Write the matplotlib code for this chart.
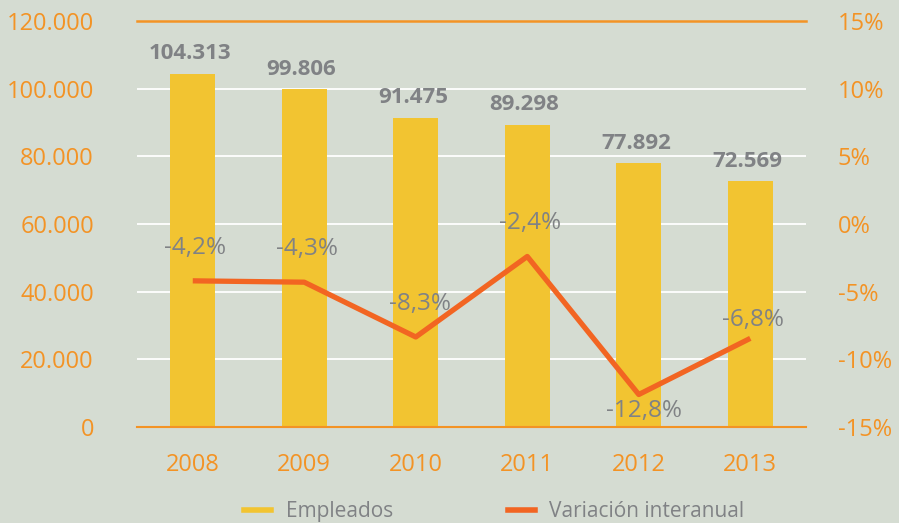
import matplotlib
matplotlib.use("Agg")
import matplotlib.pyplot as plt
from matplotlib.lines import Line2D

years = ["2008", "2009", "2010", "2011", "2012", "2013"]
empleados = [104313, 99806, 91475, 89298, 77892, 72569]
empleados_labels = ["104.313", "99.806", "91.475", "89.298", "77.892", "72.569"]
variacion = [-4.2, -4.3, -8.35, -2.4, -12.6, -8.45]
variacion_labels = ["-4,2%", "-4,3%", "-8,3%", "-2,4%", "-12,8%", "-6,8%"]
left_ticks = [0, 20000, 40000, 60000, 80000, 100000, 120000]
left_tick_labels = ["0", "20.000", "40.000", "60.000", "80.000", "100.000", "120.000"]
right_ticks = [-15, -10, -5, 0, 5, 10, 15]
right_tick_labels = ["-15%", "-10%", "-5%", "0%", "5%", "10%", "15%"]

BG = "#d5dcd2"
BAR = "#f2c431"
LINE = "#f26522"
ORANGE = "#f39325"
GRAY = "#808285"
FONT = "Open Sans"

plt.rcParams["font.family"] = [FONT, "DejaVu Sans"]

fig = plt.figure(figsize=(8.99, 5.23), dpi=100, facecolor=BG)
ax = fig.add_axes([0.1524, 0.1836, 0.7442, 0.7762])
ax.set_facecolor(BG)
x = list(range(len(years)))

ax.bar(x, empleados, width=0.4, color=BAR, zorder=2)
ax.set_ylim(0, 120000)
ax.set_xlim(-0.5, 5.5)
ax.set_yticks(left_ticks)
ax.set_yticklabels(left_tick_labels)
ax.set_xticks(x)
ax.set_xticklabels(years)
ax.tick_params(axis="y", length=0, pad=31, labelsize=17, labelcolor=ORANGE)
ax.tick_params(axis="x", length=0, pad=19, labelsize=17, labelcolor=ORANGE)
for t in left_ticks[1:-1]:
    ax.axhline(t, color="white", lw=1.3, zorder=1)
for s in ax.spines.values():
    s.set_visible(False)
ax.axhline(120000, color=ORANGE, lw=1.8, zorder=3, clip_on=False)
ax.axhline(0, color=ORANGE, lw=1.5, zorder=3, clip_on=False)

for xi, v, lab in zip(x, empleados, empleados_labels):
    ax.annotate(lab, (xi, v), xytext=(-2, 7), textcoords="offset points",
                ha="center", va="bottom", fontsize=16, fontweight="bold", color=GRAY, zorder=5)

ax2 = ax.twinx()
ax2.set_ylim(-15, 15)
ax2.set_yticks(right_ticks)
ax2.set_yticklabels(right_tick_labels)
ax2.tick_params(axis="y", length=0, pad=23, labelsize=17, labelcolor=ORANGE)
for s in ax2.spines.values():
    s.set_visible(False)
ax2.plot(x, variacion, color=LINE, lw=3.8, zorder=4, solid_capstyle="butt")

offsets = [(2, 24), (2, 24), (3, 24), (2, 24), (4, -12), (2, 13)]
for xi, v, lab, off in zip(x, variacion, variacion_labels, offsets):
    ax2.annotate(lab, (xi, v), xytext=off, textcoords="offset points",
                 ha="center", va="center", fontsize=17.5, color=GRAY, zorder=5)

handles = [Line2D([0], [0], color=BAR, lw=4), Line2D([0], [0], color=LINE, lw=4)]
fig.legend(handles, ["Empleados", "Variación interanual"], loc="center",
           bbox_to_anchor=(0.55, 0.022), ncol=2, frameon=False, fontsize=15,
           labelcolor=GRAY, handlelength=1.3, columnspacing=5.5, handletextpad=0.7)

fig.savefig("out.png", dpi=100, facecolor=BG)
